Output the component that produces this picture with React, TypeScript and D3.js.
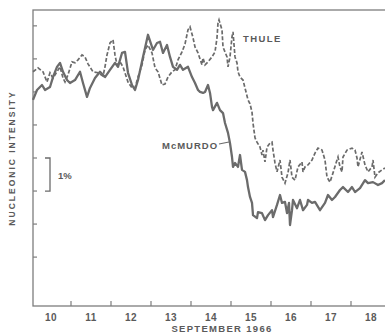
import * as d3 from 'd3';
import React from 'react';

// fractional days of September 1966, values in % (arbitrary base, 1 unit = 1%)
const mcmurdoDays = [10.05, 10.15, 10.275, 10.35, 10.475, 10.55, 10.65, 10.725, 10.8, 10.9, 10.975, 11.1, 11.225, 11.3, 11.4, 11.475, 11.6, 11.725, 11.85, 11.975, 12.1, 12.175, 12.275, 12.35, 12.425, 12.525, 12.6, 12.675, 12.8, 12.925, 13.05, 13.15, 13.225, 13.3, 13.4, 13.475, 13.55, 13.65, 13.725, 13.8, 13.925, 14.025, 14.1, 14.175, 14.225, 14.3, 14.35, 14.425, 14.475, 14.525, 14.55, 14.65, 14.725, 14.8, 14.85, 14.925, 14.975, 15.025, 15.05, 15.1, 15.175, 15.225, 15.275, 15.35, 15.4, 15.425, 15.475, 15.525, 15.55, 15.65, 15.675, 15.775, 15.85, 15.925, 16.025, 16.05, 16.15, 16.225, 16.275, 16.35, 16.4, 16.45, 16.475, 16.525, 16.55, 16.65, 16.725, 16.8, 16.9, 16.925, 17.025, 17.1, 17.225, 17.35, 17.425, 17.525, 17.6, 17.725, 17.8, 17.925, 18.025, 18.1, 18.225, 18.35, 18.425, 18.55, 18.675, 18.775, 18.85];
const mcmurdoValues = [4.76, 5.06, 5.21, 5.06, 5.15, 5.45, 5.76, 5.88, 5.61, 5.36, 5.27, 5.36, 5.61, 5.27, 4.85, 5.12, 5.42, 5.61, 5.45, 5.67, 5.88, 5.76, 6.18, 6.21, 5.58, 5.21, 5.06, 5.36, 6.06, 6.73, 6.27, 6.48, 6.52, 6.18, 6.42, 6.06, 5.76, 5.67, 5.82, 5.67, 5.76, 5.45, 5.27, 5.06, 5.0, 4.97, 5.0, 5.21, 4.97, 4.55, 4.45, 4.67, 4.45, 4.36, 4.06, 3.76, 3.45, 3.03, 2.73, 2.85, 2.73, 3.09, 2.64, 2.58, 2.33, 2.12, 1.82, 1.64, 1.27, 1.18, 1.36, 1.33, 1.12, 1.27, 1.42, 1.21, 1.58, 1.88, 1.64, 1.67, 1.33, 1.64, 0.97, 1.42, 1.73, 1.48, 1.73, 1.42, 1.58, 1.73, 1.64, 1.67, 1.42, 1.64, 1.88, 1.73, 1.82, 2.03, 2.12, 1.97, 2.12, 1.97, 2.09, 2.33, 2.24, 2.27, 2.18, 2.24, 2.33];

const thuleDays = [10.05, 10.175, 10.3, 10.4, 10.475, 10.55, 10.65, 10.725, 10.8, 10.85, 10.925, 11.025, 11.1, 11.175, 11.275, 11.35, 11.425, 11.55, 11.675, 11.8, 11.85, 11.9, 11.975, 12.05, 12.1, 12.15, 12.225, 12.3, 12.425, 12.525, 12.6, 12.675, 12.775, 12.85, 12.925, 13.025, 13.1, 13.175, 13.275, 13.35, 13.425, 13.525, 13.6, 13.675, 13.775, 13.85, 13.925, 13.975, 14.05, 14.1, 14.175, 14.275, 14.3, 14.35, 14.425, 14.525, 14.6, 14.65, 14.675, 14.7, 14.775, 14.8, 14.9, 14.925, 14.975, 15.025, 15.05, 15.1, 15.15, 15.175, 15.225, 15.3, 15.35, 15.425, 15.475, 15.525, 15.55, 15.6, 15.65, 15.725, 15.775, 15.8, 15.85, 15.9, 15.975, 16.025, 16.05, 16.1, 16.15, 16.225, 16.275, 16.35, 16.425, 16.475, 16.525, 16.6, 16.675, 16.775, 16.8, 16.85, 16.925, 17.025, 17.1, 17.175, 17.275, 17.35, 17.4, 17.475, 17.55, 17.65, 17.675, 17.725, 17.775, 17.8, 17.9, 18.025, 18.1, 18.15, 18.175, 18.275, 18.35, 18.425, 18.525, 18.55, 18.6, 18.675, 18.775, 18.85];
const thuleValues = [5.61, 5.73, 5.61, 5.3, 5.58, 5.42, 5.61, 5.76, 5.42, 5.3, 5.52, 5.91, 5.88, 5.97, 6.12, 6.06, 5.85, 5.61, 5.58, 5.48, 5.76, 6.12, 6.48, 6.58, 6.12, 5.82, 5.91, 5.76, 5.3, 5.12, 5.12, 5.45, 5.82, 6.27, 6.42, 6.18, 5.73, 5.61, 5.21, 5.24, 5.45, 5.61, 5.67, 5.97, 6.21, 6.45, 6.88, 6.97, 6.64, 6.36, 6.18, 5.82, 6.03, 5.82, 5.91, 6.06, 6.21, 6.64, 7.09, 7.18, 6.88, 6.36, 6.06, 5.76, 6.06, 6.67, 6.82, 6.06, 5.88, 5.61, 5.45, 5.36, 5.12, 4.76, 4.64, 4.39, 4.06, 3.61, 3.48, 3.33, 3.09, 3.24, 2.88, 3.33, 3.45, 3.48, 3.24, 2.85, 2.58, 2.94, 2.42, 2.24, 2.55, 2.94, 2.42, 2.33, 2.73, 2.88, 2.58, 2.73, 2.79, 2.94, 3.15, 3.3, 3.24, 2.94, 2.42, 2.27, 2.55, 2.94, 3.03, 2.73, 2.58, 3.03, 3.24, 3.3, 3.24, 3.0, 2.73, 3.18, 2.79, 2.58, 2.73, 2.94, 2.42, 2.55, 2.64, 2.7];

const dayLabels = [10, 11, 12, 13, 14, 15, 16, 17, 18];
const dayTicks = [11, 12, 13, 14, 15, 16, 17, 18, 19];
const pctTicks = [0, 1, 2, 3, 4, 5, 6, 7];
const scaleBar = [2, 3]; // the 1% bracket

const width = 385;
const height = 335;
const ink = '#6b6b6b';
const textInk = '#5a5a5a';
const font = 'Liberation Sans, Arial, sans-serif';

const App = () => {
  const x = d3.scaleLinear().domain([10, 19]).range([31, 391]);
  const y = d3.scaleLinear().domain([-1.48, 7.48]).range([306, 10]);

  const mcmurdo = mcmurdoDays.map((d, i) => [d, mcmurdoValues[i]]);
  const thule = thuleDays.map((d, i) => [d, thuleValues[i]]);
  const line = d3.line().x(d => x(d[0])).y(d => y(d[1]));

  const left = x(mcmurdoDays[0]);
  const top = y(7.48);
  const bottom = y(-1.48);

  return (
    <svg width={width} height={height} style={{ position: 'absolute', left: 0, top: 0, background: '#fff' }}>
      {/* frame, right side runs off the picture */}
      <rect x={left} y={top} width={x(19) - left} height={bottom - top} fill="none" stroke="#7d7d7d" strokeWidth={1.3} />

      {/* left ticks */}
      {pctTicks.map(t => (
        <line key={t} x1={left} x2={left + 4} y1={y(t)} y2={y(t)} stroke="#7d7d7d" strokeWidth={1.2} />
      ))}
      {/* bottom ticks */}
      {dayTicks.map(t => (
        <line key={t} x1={x(t)} x2={x(t)} y1={bottom} y2={bottom - 5} stroke="#7d7d7d" strokeWidth={1.2} />
      ))}
      {dayLabels.map(d => (
        <text key={d} x={x(d + 0.5)} y={321} textAnchor="middle" fontFamily={font} fontSize={10} fontWeight="bold" fill={textInk} letterSpacing={0.5}>
          {d}
        </text>
      ))}
      <text x={222} y={332} textAnchor="middle" fontFamily={font} fontSize={9.5} fontWeight="bold" fill={textInk} letterSpacing={1.3}>
        SEPTEMBER 1966
      </text>
      <text transform={`translate(15, 158) rotate(-90)`} textAnchor="middle" fontFamily={font} fontSize={8.5} fontWeight="bold" fill={textInk} letterSpacing={2}>
        NUCLEONIC INTENSITY
      </text>

      {/* 1% bracket */}
      <path
        d={`M45,${y(scaleBar[1])} H50 V${y(scaleBar[0])} H45`}
        fill="none" stroke={ink} strokeWidth={1.3}
      />
      <text x={58} y={179} fontFamily={font} fontSize={9.5} fontWeight="bold" fill={textInk}>1%</text>

      {/* data */}
      <path d={line(thule)} fill="none" stroke={ink} strokeWidth={1.7} strokeDasharray="4 2" />
      <path d={line(mcmurdo)} fill="none" stroke={ink} strokeWidth={2.3} strokeLinejoin="round" />

      <text x={243} y={42} fontFamily={font} fontSize={9.5} fontWeight="bold" fill={textInk} letterSpacing={1.4}>THULE</text>
      <text x={162} y={149} fontFamily={font} fontSize={9.5} fontWeight="bold" fill={textInk} letterSpacing={1}>
        Mc<tspan>MURDO</tspan>
      </text>
      <line x1={219} x2={229} y1={144} y2={142} stroke={ink} strokeWidth={1.2} />
    </svg>
  );
};

export default App;
